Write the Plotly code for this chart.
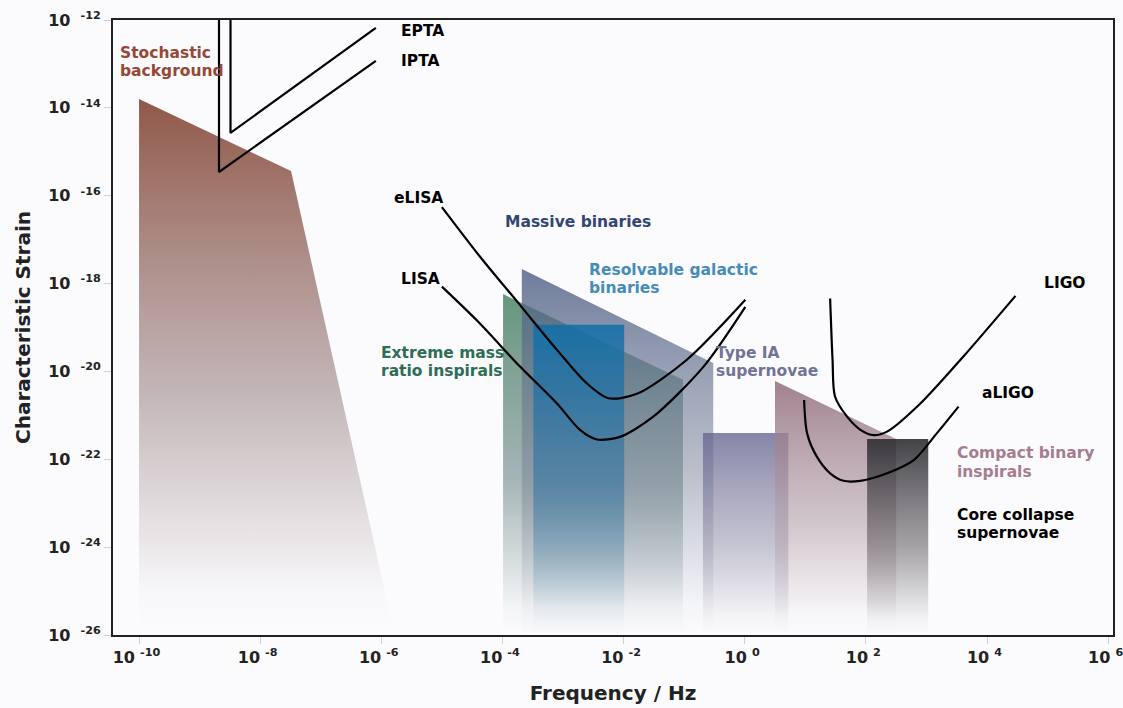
import plotly.graph_objects as go

# ---------------- data (log10 values) ----------------
# Sensitivity curves: log10(frequency / Hz), log10(characteristic strain)
epta_logf = [-8.49, -8.49, -6.09]
epta_logh = [-12.0, -14.57, -12.18]
ipta_logf = [-8.68, -8.68, -6.09]
ipta_logh = [-12.0, -15.46, -12.93]

elisa_logf = [-5.00, -4.37, -3.71, -3.10, -2.61, -2.25, -1.78, -0.96, 0.01]
elisa_logh = [-16.26, -17.39, -18.49, -19.51, -20.27, -20.61, -20.51, -19.74, -18.37]
lisa_logf = [-5.00, -4.40, -3.71, -3.10, -2.72, -2.44, -2.06, -1.51, -0.68, 0.01]
lisa_logh = [-18.07, -18.87, -19.89, -20.73, -21.33, -21.55, -21.49, -21.03, -19.89, -18.53]

ligo_logf = [1.41, 1.45, 1.49, 1.69, 1.91, 2.13, 2.35, 2.90, 3.61, 4.47]
ligo_logh = [-18.34, -19.74, -20.57, -21.03, -21.33, -21.45, -21.37, -20.73, -19.66, -18.28]
aligo_logf = [0.98, 1.03, 1.19, 1.41, 1.63, 1.91, 2.35, 2.79, 3.17, 3.53]
aligo_logh = [-20.65, -21.41, -21.94, -22.32, -22.49, -22.49, -22.32, -22.02, -21.41, -20.80]

# Source regions (polygon corners, log10 units)
stoch_logf = [-10.0, -10.0, -7.49, -5.78]
stoch_logh = [-26.0, -13.80, -15.44, -26.0]
emri_logf = [-3.99, -3.99, -1.02, -1.02]
emri_logh = [-26.0, -18.24, -20.19, -26.0]
massive_logf = [-3.68, -3.68, -0.52, -0.52]
massive_logh = [-26.0, -17.67, -19.81, -26.0]
galactic_logf = [-3.49, -3.49, -1.99, -1.99]
galactic_logh = [-26.0, -18.94, -18.94, -26.0]
typeia_logf = [-0.69, -0.69, 0.72, 0.72]
typeia_logh = [-26.0, -21.40, -21.40, -26.0]
compact_logf = [0.50, 0.50, 2.50, 2.50]
compact_logh = [-26.0, -20.22, -21.54, -26.0]
core_logf = [2.02, 2.02, 3.03, 3.03]
core_logh = [-26.0, -21.54, -21.54, -26.0]

x_tick_exp = [-10, -8, -6, -4, -2, 0, 2, 4, 6]
y_tick_exp = [-12, -14, -16, -18, -20, -22, -24, -26]


def p10(v):
    return [10 ** a for a in v]


fig = go.Figure()

FONT = "DejaVu Sans"


def region(lf, lh, top_rgb, mid_rgb, top_a, mid_a):
    r, g, b = top_rgb
    mr, mg, mb = mid_rgb
    fig.add_trace(go.Scatter(
        x=p10(lf), y=p10(lh), mode="lines", fill="toself",
        line=dict(width=0, color="rgba(0,0,0,0)"),
        fillgradient=dict(
            type="vertical",
            colorscale=[
                [0.0, f"rgba({mr},{mg},{mb},0)"],
                [0.08, f"rgba({mr},{mg},{mb},0.05)"],
                [0.45, f"rgba({mr},{mg},{mb},{mid_a})"],
                [1.0, f"rgba({r},{g},{b},{top_a})"],
            ],
        ),
        hoverinfo="skip", showlegend=False,
    ))


region(stoch_logf, stoch_logh, (145, 88, 72), (185, 170, 172), 1.0, 0.85)
region(emri_logf, emri_logh, (85, 140, 110), (95, 125, 125), 0.9, 0.55)
region(massive_logf, massive_logh, (75, 92, 132), (120, 130, 150), 0.8, 0.5)
region(galactic_logf, galactic_logh, (15, 110, 170), (50, 115, 160), 0.85, 0.55)
region(typeia_logf, typeia_logh, (100, 100, 145), (130, 128, 155), 0.78, 0.45)
region(compact_logf, compact_logh, (145, 108, 122), (180, 160, 170), 0.85, 0.6)
region(core_logf, core_logh, (45, 45, 50), (95, 90, 95), 0.9, 0.55)


def curve(lf, lh, spline=True):
    fig.add_trace(go.Scatter(
        x=p10(lf), y=p10(lh), mode="lines",
        line=dict(color="black", width=2.2, shape="spline" if spline else "linear",
                  smoothing=0.8),
        hoverinfo="skip", showlegend=False,
    ))


curve(epta_logf, epta_logh, spline=False)
curve(ipta_logf, ipta_logh, spline=False)
curve(elisa_logf, elisa_logh)
curve(lisa_logf, lisa_logh)
curve(ligo_logf, ligo_logh)
curve(aligo_logf, aligo_logh)

# label lines: (text, left x, centre y) in axis (log10) units
BROWN = "rgb(150,72,55)"
labels = [
    ("Stochastic", -10.35, -12.75, BROWN),
    ("background", -10.35, -13.16, BROWN),
    ("EPTA", -5.71, -12.25, "black"),
    ("IPTA", -5.71, -12.93, "black"),
    ("eLISA", -5.82, -16.05, "black"),
    ("LISA", -5.71, -17.90, "black"),
    ("Massive binaries", -3.99, -16.60, "rgb(50,70,115)"),
    ("Resolvable galactic", -2.60, -17.69, "rgb(70,140,185)"),
    ("binaries", -2.60, -18.10, "rgb(70,140,185)"),
    ("Extreme mass", -6.04, -19.58, "rgb(45,110,85)"),
    ("ratio inspirals", -6.04, -19.99, "rgb(45,110,85)"),
    ("Type IA", -0.50, -19.58, "rgb(115,115,150)"),
    ("supernovae", -0.50, -19.99, "rgb(115,115,150)"),
    ("LIGO", 4.91, -17.99, "black"),
    ("aLIGO", 3.89, -20.49, "black"),
    ("Compact binary", 3.47, -21.86, "rgb(165,125,145)"),
    ("inspirals", 3.47, -22.29, "rgb(165,125,145)"),
    ("Core collapse", 3.47, -23.27, "black"),
    ("supernovae", 3.47, -23.68, "black"),
]
for text, lx, ly, col in labels:
    fig.add_annotation(
        x=lx, y=ly, xref="x", yref="y", text=f"<b>{text}</b>",
        showarrow=False, xanchor="left", yanchor="middle", align="left",
        font=dict(family=FONT, size=15.5, color=col),
    )

axis_common = dict(
    type="log", showgrid=False, zeroline=False,
    showline=True, linecolor="#222", linewidth=2, mirror=True,
    ticks="outside", ticklen=7, tickcolor="#cfcfd4", tickwidth=1,
    tickfont=dict(family=FONT, size=16, color="#222"),
    ticklabeloverflow="allow", automargin=False,
)

fig.update_xaxes(
    **axis_common,
    range=[-10.43, 6.08],
    tickvals=[10 ** e for e in x_tick_exp],
    ticktext=[f"<b>10</b> <sup><b>{e}</b></sup>&nbsp;" for e in x_tick_exp],
    title=dict(text="<b>Frequency / Hz</b>", font=dict(family=FONT, size=20, color="#222"),
               standoff=20),
)
fig.update_yaxes(
    **axis_common,
    range=[-26, -12],
    tickvals=[10 ** e for e in y_tick_exp],
    ticktext=[f"<b>10</b>  <sup><b>{e}</b></sup>" for e in y_tick_exp],
    title=dict(text="<b>Characteristic Strain</b>", font=dict(family=FONT, size=20, color="#222"),
               standoff=12),
)

fig.update_layout(
    width=1123, height=708,
    margin=dict(l=113, r=10, t=20, b=73),
    paper_bgcolor="#fbfbfd", plot_bgcolor="#fbfbfd",
    showlegend=False,
)

fig.write_html(
    "out.html",
    config={"displayModeBar": False},
    post_script="document.body.style.margin='0';document.body.style.overflow='hidden';"
                "document.body.style.background='#fbfbfd';",
)
